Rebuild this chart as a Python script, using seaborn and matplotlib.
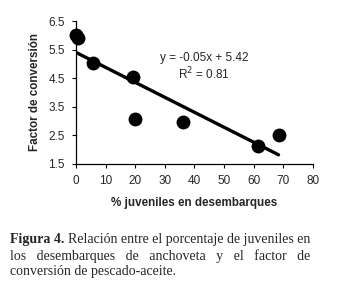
import matplotlib
matplotlib.use("Agg")
import matplotlib.pyplot as plt
import seaborn as sns
import numpy as np
import pandas as pd

juveniles = [0, 0.8, 5.8, 19.4, 20, 36, 61.3, 68.4]
factor = [6.01, 5.9, 5.02, 4.53, 3.07, 2.97, 2.11, 2.51]
x_ticks = [0, 10, 20, 30, 40, 50, 60, 70, 80]
y_ticks = [1.5, 2.5, 3.5, 4.5, 5.5, 6.5]
equation = "y = -0.05x + 5.42"
r2_text = "R$^2$ = 0.81"
xlabel = "% juveniles en desembarques"
ylabel = "Factor de conversión"
caption_bold = "Figura 4."
caption_lines = [
    "Relación entre el porcentaje de juveniles en",
    "los desembarques de anchoveta y el factor de",
    "conversión de pescado-aceite.",
]

sns.set_style("ticks")
plt.rcParams['font.family'] = ['Liberation Sans', 'DejaVu Sans']

df = pd.DataFrame({"x": juveniles, "y": factor})

fig = plt.figure(figsize=(3.5, 2.84), dpi=100)
ax = fig.add_axes([0.217, 0.423, 0.677, 0.503])
sns.regplot(data=df, x="x", y="y", ax=ax, ci=None, truncate=True,
            scatter_kws=dict(s=100, color="black", alpha=1, edgecolor="black",
                             linewidths=0, zorder=3, clip_on=False),
            line_kws=dict(color="black", lw=2.4))
ax.set_xlim(0, 80)
ax.set_ylim(1.5, 6.5)
ax.set_xticks(x_ticks)
ax.set_yticks(y_ticks)
ax.set_xticklabels([str(t) for t in x_ticks])
ax.set_yticklabels([f"{t:.1f}" for t in y_ticks])
ax.tick_params(labelsize=8.5, length=3, width=0.8, color="black", pad=5)
for s in ["left", "bottom"]:
    ax.spines[s].set_color("black")
    ax.spines[s].set_linewidth(0.9)
sns.despine(ax=ax)
ax.set_xlabel(xlabel, fontsize=8.4, fontweight="bold", labelpad=7)
ax.set_ylabel(ylabel, fontsize=8.4, fontweight="bold", labelpad=5)
ax.text(0.54, 0.74, equation, transform=ax.transAxes, ha="center", va="center", fontsize=8.5)
ax.text(0.54, 0.63, r2_text, transform=ax.transAxes, ha="center", va="center", fontsize=8.5)

# caption
serif = ['Liberation Serif', 'DejaVu Serif']
fs = 10
left_px, right_px = 10, 312
W, H = fig.get_size_inches() * fig.dpi
ys = [240, 256, 271]
renderer = fig.canvas.get_renderer()

# line 1: bold label + normal text with natural spacing
tb = fig.text(left_px / W, 1 - ys[0] / H, caption_bold, fontsize=fs, family=serif,
              fontweight="bold", ha="left", va="center")
bw = tb.get_window_extent(renderer).width
fig.text((left_px + bw + 3.5) / W, 1 - ys[0] / H, caption_lines[0], fontsize=fs,
         family=serif, ha="left", va="center")

# line 2: justified by repeating spaces (even gaps)
words = caption_lines[1].split()
t2 = fig.text(left_px / W, 1 - ys[1] / H, "", fontsize=fs, family=serif,
              ha="left", va="center")
best = None
for n in range(1, 8):
    s = (" " * n).join(words)
    t2.set_text(s)
    wdt = t2.get_window_extent(renderer).width
    err = abs(wdt - (right_px - left_px))
    if best is None or err < best[0]:
        best = (err, s)
t2.set_text(best[1])

# line 3: left aligned
fig.text(left_px / W, 1 - ys[2] / H, caption_lines[2], fontsize=fs, family=serif,
         ha="left", va="center")

fig.savefig("out.png", dpi=100, facecolor="white")
